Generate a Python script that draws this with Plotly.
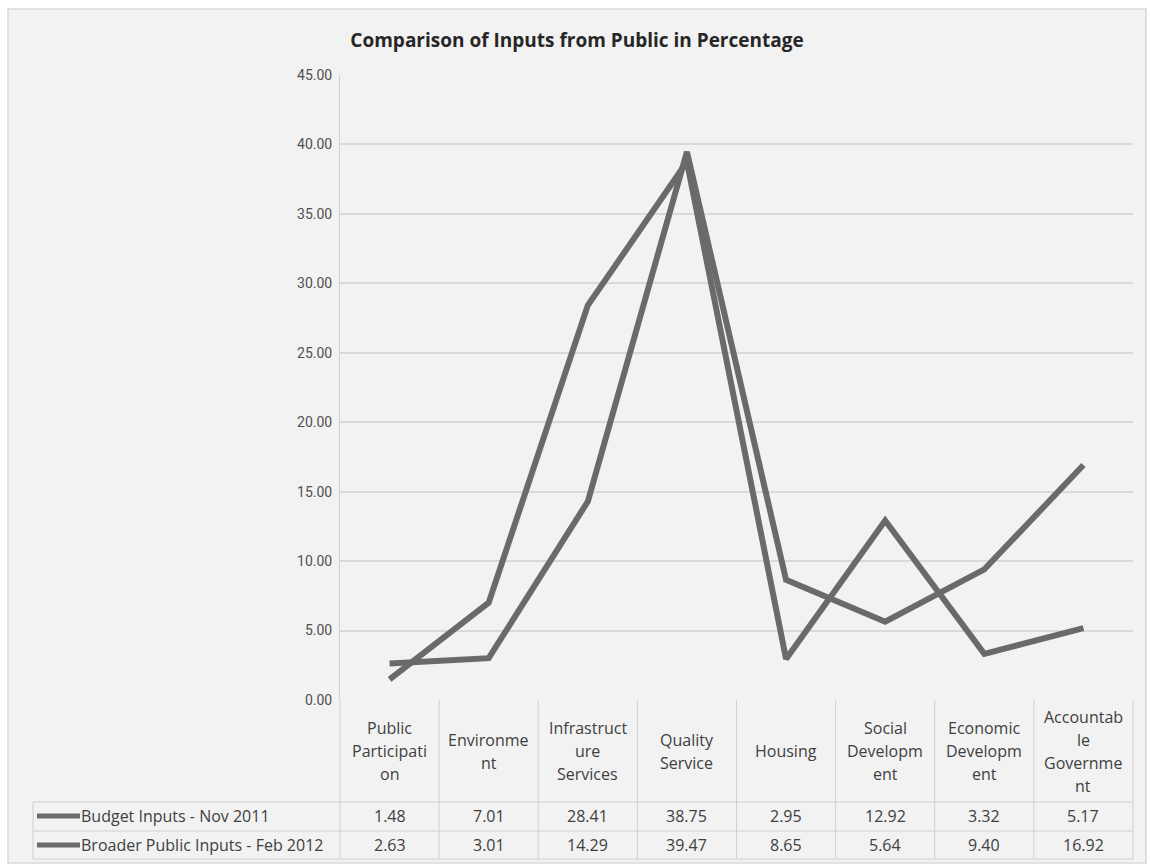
import plotly.graph_objects as go

# ---- data -------------------------------------------------------------
categories = [
    "Public\nParticipati\non",
    "Environme\nnt",
    "Infrastruct\nure\nServices",
    "Quality\nService",
    "Housing",
    "Social\nDevelopm\nent",
    "Economic\nDevelopm\nent",
    "Accountab\nle\nGovernme\nnt",
]
series_names = ["Budget Inputs - Nov 2011", "Broader Public Inputs - Feb 2012"]
budget_nov_2011 = [1.48, 7.01, 28.41, 38.75, 2.95, 12.92, 3.32, 5.17]
broader_feb_2012 = [2.63, 3.01, 14.29, 39.47, 8.65, 5.64, 9.40, 16.92]
y_ticks = [0, 5, 10, 15, 20, 25, 30, 35, 40, 45]

# ---- geometry helpers (pixel -> paper) --------------------------------
W, H = 1151, 865
L, R, T, B = 340, 18, 75, 165
PW, PH = W - L - R, H - T - B


def px(x):
    return (x - L) / PW


def py(y):
    return (H - B - y) / PH


FONT = "Open Sans, Liberation Sans, sans-serif"
TICK_FONT = "Roboto, Open Sans, sans-serif"
LINE_COLOR = "#6a6a6a"
TEXT_COLOR = "#404040"
GRID = "#d9d9d9"
TABLE_LINE = "#cfcfcf"
TABLE_SIZE = 16

idx = list(range(len(categories)))

fig = go.Figure()
for name, vals in zip(series_names, [budget_nov_2011, broader_feb_2012]):
    fig.add_trace(go.Scatter(
        x=idx, y=vals, mode="lines", name=name,
        line=dict(color=LINE_COLOR, width=6),
        hoverinfo="x+y", showlegend=False,
    ))

shapes = []
annotations = []

# chart frame
shapes.append(dict(type="rect", xref="paper", yref="paper",
                   x0=px(8), x1=px(1146), y0=py(863), y1=py(9),
                   fillcolor="#f2f2f2", line=dict(color="#d9d9d9", width=1.5),
                   layer="below"))

# data table grid
row_tops = [802, 831, 859]
for y in row_tops:
    shapes.append(dict(type="line", xref="paper", yref="paper",
                       x0=px(33), x1=1, y0=py(y), y1=py(y),
                       line=dict(color=TABLE_LINE, width=1)))
shapes.append(dict(type="line", xref="paper", yref="paper",
                   x0=px(33), x1=px(33), y0=py(802), y1=py(859),
                   line=dict(color=TABLE_LINE, width=1)))
shapes.append(dict(type="line", xref="paper", yref="paper",
                   x0=0, x1=0, y0=py(700), y1=py(859),
                   line=dict(color=TABLE_LINE, width=1)))
shapes.append(dict(type="line", xref="paper", yref="paper",
                   x0=1, x1=1, y0=py(700), y1=py(859),
                   line=dict(color=TABLE_LINE, width=1)))
for i in idx[:-1]:
    shapes.append(dict(type="line", xref="x", yref="paper",
                       x0=i + 0.5, x1=i + 0.5, y0=py(700), y1=py(859),
                       line=dict(color=TABLE_LINE, width=1)))

# category header cells
LINE_H = 23
for i, cat in zip(idx, categories):
    lines = cat.split("\n")
    start = 751 - (len(lines) - 1) * LINE_H / 2
    for k, ln in enumerate(lines):
        annotations.append(dict(
            x=i, y=py(start + k * LINE_H), xref="x", yref="paper",
            text=ln, showarrow=False, xanchor="center", yanchor="middle",
            font=dict(family=FONT, size=TABLE_SIZE, color=TEXT_COLOR)))

# value rows with legend keys
row_centers = [816, 845]
for yc, name, vals in zip(row_centers, series_names, [budget_nov_2011, broader_feb_2012]):
    shapes.append(dict(type="line", xref="paper", yref="paper",
                       x0=px(37), x1=px(80), y0=py(yc), y1=py(yc),
                       line=dict(color=LINE_COLOR, width=5)))
    annotations.append(dict(
        x=px(79), y=py(yc), xref="paper", yref="paper", text=name,
        showarrow=False, xanchor="left", yanchor="middle",
        font=dict(family=FONT, size=TABLE_SIZE, color=TEXT_COLOR)))
    for i, v in zip(idx, vals):
        annotations.append(dict(
            x=i, y=py(yc), xref="x", yref="paper", text=f"{v:.2f}",
            showarrow=False, xanchor="center", yanchor="middle",
            font=dict(family=FONT, size=TABLE_SIZE, color=TEXT_COLOR)))

fig.update_layout(
    width=W, height=H,
    margin=dict(l=L, r=R, t=T, b=B),
    paper_bgcolor="white",
    plot_bgcolor="#f2f2f2",
    title=dict(text="<b>Comparison of Inputs from Public in Percentage</b>",
               x=px(577), xref="paper", xanchor="center",
               y=1 - 40 / H, yref="container", yanchor="middle",
               font=dict(family=FONT, size=19, color="#262626")),
    xaxis=dict(range=[-0.5, len(categories) - 0.5], showticklabels=False,
               showgrid=False, zeroline=False, ticks="",
               showline=False, fixedrange=True),
    yaxis=dict(range=[0, 45], tickvals=y_ticks, tickformat=".2f",
               showgrid=True, gridcolor=GRID, gridwidth=2,
               zeroline=False, showline=True, linecolor="#d0d0d0", linewidth=1,
               ticks="", ticklabelstandoff=4,
               tickfont=dict(family=TICK_FONT, size=14, color="#505050")),
    shapes=shapes,
    annotations=annotations,
    showlegend=False,
)

fig.write_html("out.html")
